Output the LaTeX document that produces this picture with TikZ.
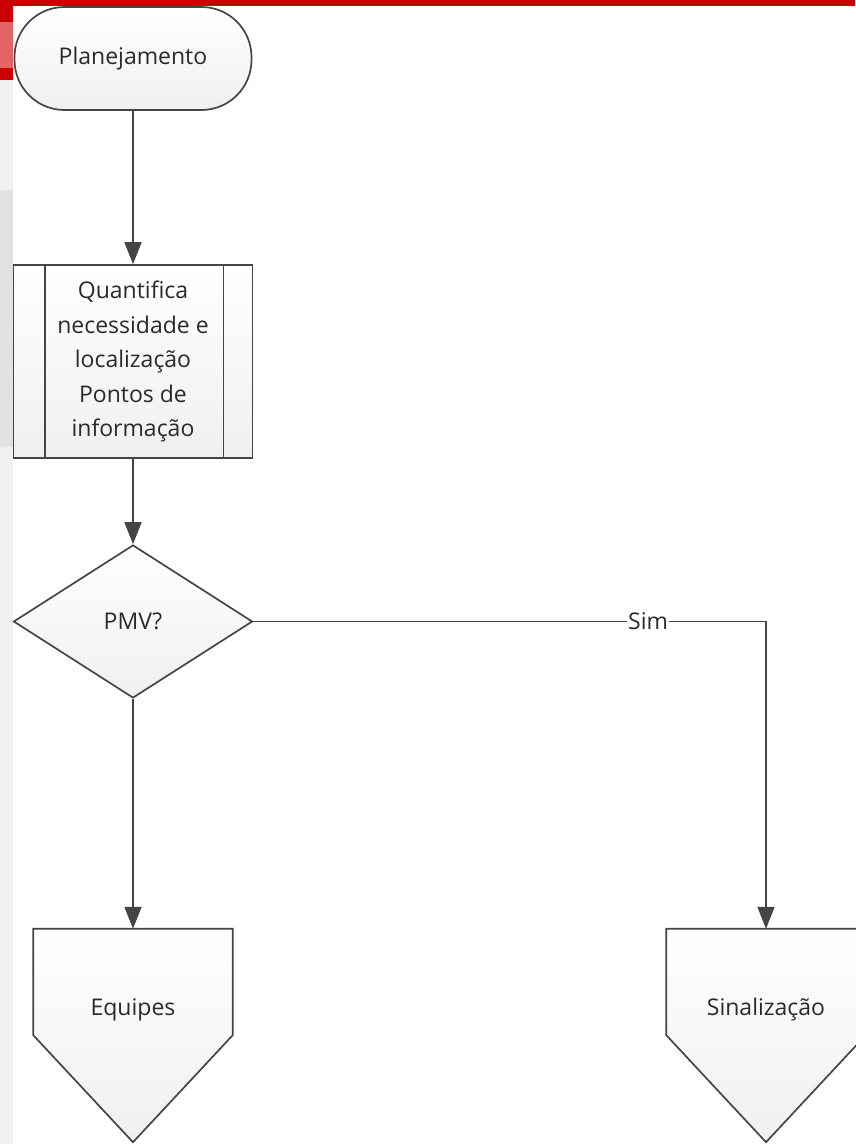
\documentclass[tikz,border=0pt]{standalone}
\usepackage{fontspec}
\setmainfont{Open Sans}
\usetikzlibrary{arrows.meta,shapes.geometric,shadows,calc}

\definecolor{barred}{HTML}{C80000}
\definecolor{lightred}{HTML}{E26464}
\definecolor{strip}{HTML}{F0F0F0}
\definecolor{stripdark}{HTML}{E2E2E2}
\definecolor{edge}{HTML}{454545}
\definecolor{ink}{HTML}{2A2A2A}

\tikzset{
  outline/.style={draw=edge, line width=1.7pt, top color=white, bottom color=gray!12},
  label/.style={text=ink, font=\fontsize{23}{34.5}\selectfont, align=center},
  flowshape/.style={outline, label, inner sep=0pt},
  flow/.style={draw=edge, line width=1.7pt, -{Triangle[length=22pt,width=17pt]}},
  offpage/.style={minimum width=199pt, minimum height=106pt, inner sep=0pt},
}

\begin{document}
\begin{tikzpicture}[x=1pt,y=-1pt]
  \useasboundingbox (0,0) rectangle (855,1144);
  % slide background
  \fill[white] (0,0) rectangle (855,1144);
  \fill[strip] (0,0) rectangle (13,1144);
  \fill[stripdark] (0,190) rectangle (13,447);
  \fill[barred] (0,0) rectangle (13,80);
  \fill[lightred] (0,22) rectangle (13,68);
  \fill[barred] (0,0) rectangle (855,6);

  % start terminator
  \node[flowshape, rounded corners=50pt, minimum width=237pt, minimum height=103pt] (plan) at (133,58.5) {Planejamento};

  % predefined process
  \node[flowshape, minimum width=239pt, minimum height=193pt] (quant) at (133,361.5)
    {Quantifica\\necessidade e\\localização\\Pontos de\\informação};
  \draw[edge, line width=1.7pt] ([xshift=32pt]quant.north west) -- ([xshift=32pt]quant.south west);
  \draw[edge, line width=1.7pt] ([xshift=-30pt]quant.north east) -- ([xshift=-30pt]quant.south east);

  % decision
  \node[flowshape, diamond, minimum width=239pt, minimum height=153pt] (pmv) at (133,621.5) {PMV?};

  % off-page connectors
  \node[offpage] (equ) at (133,982) {};
  \path[outline] (equ.north west) -- (equ.north east) -- (equ.south east)
    -- ($(equ.south)+(0,107)$) -- (equ.south west) -- cycle;
  \node[label] (equlbl) at ($(equ.center)+(0,28)$) {Equipes};

  \node[offpage] (sin) at (766,982) {};
  \path[outline] (sin.north west) -- (sin.north east) -- (sin.south east)
    -- ($(sin.south)+(0,107)$) -- (sin.south west) -- cycle;
  \node[label] (sinlbl) at ($(sin.center)+(0,28)$) {Sinalização};

  % connectors
  \draw[flow] (plan.south) -- (quant.north);
  \draw[flow] (quant.south) -- (pmv.north);
  \draw[flow] (pmv.south) -- (equ.north);
  \draw[flow] (pmv.east) -- node[pos=0.77, fill=white, inner sep=1pt, label] {Sim}
    (pmv.east -| sin.north) -- (sin.north);
\end{tikzpicture}
\end{document}
